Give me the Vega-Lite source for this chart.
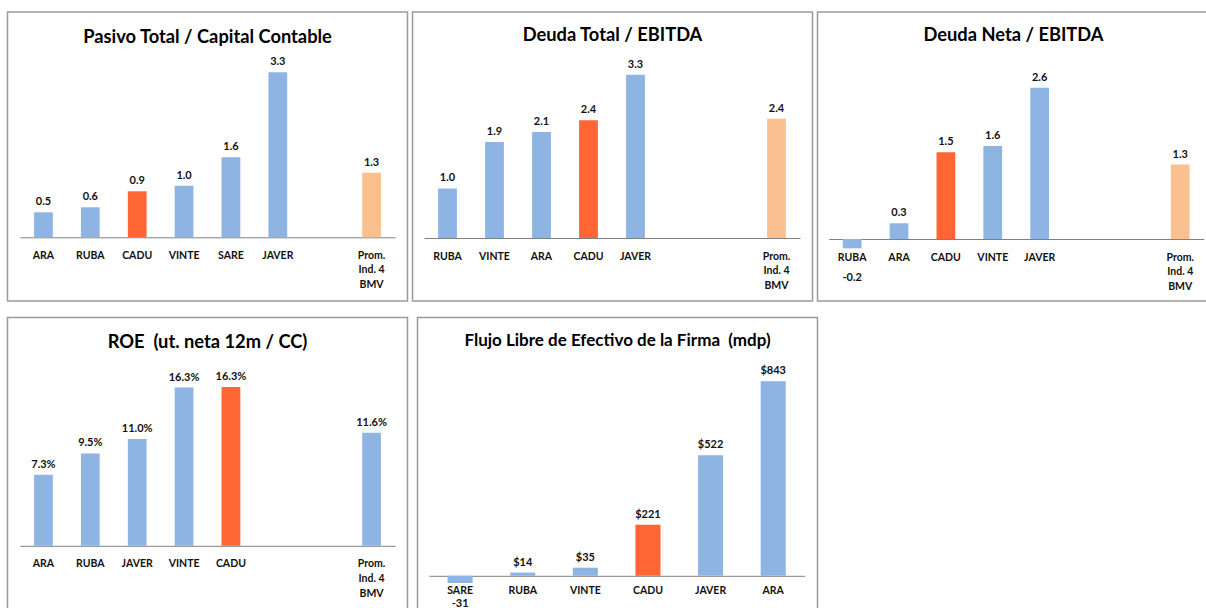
{
  "$schema": "https://vega.github.io/schema/vega-lite/v6.json",
  "padding": {"left": 6.5, "top": 11, "right": 0, "bottom": 0},
  "background": "white",
  "config": {
    "font": "Lato",
    "locale": {"number": {"decimal": ".", "thousands": ",", "grouping": [3], "currency": ["$", ""], "minus": "-"}},
    "view": {"stroke": "#9a9a9a", "strokeWidth": 1.5},
    "axis": {"ticks": false, "grid": false, "title": null, "labelAngle": 0, "labelFont": "Lato", "labelFontWeight": "bold", "labelFontSize": 10.5, "labelColor": "#111", "domainColor": "#808080", "domainWidth": 1, "labelPadding": 13, "labelLineHeight": 14.7, "labelOverlap": false},
    "title": {"font": "Lato", "fontWeight": "bold", "fontSize": 18.3, "color": "#000", "anchor": "middle", "baseline": "middle"},
    "text": {"font": "Lato", "fontWeight": "bold", "fontSize": 11, "color": "#111"}
  },
  "spacing": 14.5,
  "vconcat": [
    {
      "spacing": 3,
      "hconcat": [
        {
          "width": 400, "height": 289,
          "title": {"text": "Pasivo Total / Capital Contable", "offset": -35},
          "data": {"values": [
            {"emisora": "ARA", "valor": 0.5},
            {"emisora": "RUBA", "valor": 0.6},
            {"emisora": "CADU", "valor": 0.92},
            {"emisora": "VINTE", "valor": 1.03},
            {"emisora": "SARE", "valor": 1.6},
            {"emisora": "JAVER", "valor": 3.3},
            {"emisora": "Prom. Ind. 4 BMV", "valor": 1.29}
          ]},
          "encoding": {
            "x": {"field": "emisora", "type": "nominal", "sort": null,
              "scale": {"domain": ["ARA", "RUBA", "CADU", "VINTE", "SARE", "JAVER", " ", "Prom. Ind. 4 BMV"], "range": [12.5, 387.5], "paddingInner": 0.6, "paddingOuter": 0.3},
              "axis": {"offset": -63.7, "labelExpr": "datum.value == 'Prom. Ind. 4 BMV' ? ['Prom.', 'Ind. 4', 'BMV'] : datum.label"}},
            "y": {"field": "valor", "type": "quantitative", "scale": {"domain": [-1.274, 4.506], "nice": false, "zero": false}, "axis": null}
          },
          "layer": [
            {"mark": {"type": "bar"}, "encoding": {"color": {"condition": [{"test": "datum.emisora == 'CADU'", "value": "#FF6633"}, {"test": "datum.emisora == 'Prom. Ind. 4 BMV'", "value": "#FAC090"}], "value": "#8DB4E2"}}},
            {"mark": {"type": "text", "baseline": "bottom", "dy": -5}, "encoding": {"text": {"field": "valor", "format": ".1f"}}}
          ]
        },
        {
          "width": 400, "height": 289,
          "title": {"text": "Deuda Total / EBITDA", "offset": -33},
          "data": {"values": [
            {"emisora": "RUBA", "valor": 1.0},
            {"emisora": "VINTE", "valor": 1.94},
            {"emisora": "ARA", "valor": 2.14},
            {"emisora": "CADU", "valor": 2.38},
            {"emisora": "JAVER", "valor": 3.3},
            {"emisora": "Prom. Ind. 4 BMV", "valor": 2.41}
          ]},
          "encoding": {
            "x": {"field": "emisora", "type": "nominal", "sort": null,
              "scale": {"domain": ["RUBA", "VINTE", "ARA", "CADU", "JAVER", " ", "  ", "Prom. Ind. 4 BMV"], "range": [11.5, 387.5], "paddingInner": 0.6, "paddingOuter": 0.3},
              "axis": {"offset": -63, "labelExpr": "datum.value == 'Prom. Ind. 4 BMV' ? ['Prom.', 'Ind. 4', 'BMV'] : datum.label"}},
            "y": {"field": "valor", "type": "quantitative", "scale": {"domain": [-1.273, 4.566], "nice": false, "zero": false}, "axis": null}
          },
          "layer": [
            {"mark": {"type": "bar"}, "encoding": {"color": {"condition": [{"test": "datum.emisora == 'CADU'", "value": "#FF6633"}, {"test": "datum.emisora == 'Prom. Ind. 4 BMV'", "value": "#FAC090"}], "value": "#8DB4E2"}}},
            {"mark": {"type": "text", "baseline": "bottom", "dy": -5}, "encoding": {"text": {"field": "valor", "format": ".1f"}}}
          ]
        },
        {
          "width": 392, "height": 289,
          "title": {"text": "Deuda Neta / EBITDA", "offset": -33},
          "data": {"values": [
            {"emisora": "RUBA", "valor": -0.16},
            {"emisora": "ARA", "valor": 0.27},
            {"emisora": "CADU", "valor": 1.49},
            {"emisora": "VINTE", "valor": 1.6},
            {"emisora": "JAVER", "valor": 2.6},
            {"emisora": "Prom. Ind. 4 BMV", "valor": 1.28}
          ]},
          "encoding": {
            "x": {"field": "emisora", "type": "nominal", "sort": null,
              "scale": {"domain": ["RUBA", "ARA", "CADU", "VINTE", "JAVER", " ", "  ", "Prom. Ind. 4 BMV"], "range": [11.2, 386.2], "paddingInner": 0.6, "paddingOuter": 0.3},
              "axis": {"offset": -62, "labelExpr": "datum.value == 'Prom. Ind. 4 BMV' ? ['Prom.', 'Ind. 4', 'BMV'] : datum.label"}},
            "y": {"field": "valor", "type": "quantitative", "scale": {"domain": [-1.065, 3.9], "nice": false, "zero": false}, "axis": null}
          },
          "layer": [
            {"mark": {"type": "bar"}, "encoding": {"color": {"condition": [{"test": "datum.emisora == 'CADU'", "value": "#FF6633"}, {"test": "datum.emisora == 'Prom. Ind. 4 BMV'", "value": "#FAC090"}], "value": "#8DB4E2"}}},
            {"mark": {"type": "text", "baseline": "bottom", "dy": -5}, "transform": [{"filter": "datum.valor >= 0"}], "encoding": {"text": {"field": "valor", "format": ".1f"}}},
            {"mark": {"type": "text", "baseline": "middle", "dy": 39}, "transform": [{"filter": "datum.valor < 0"}], "encoding": {"y": {"datum": 0}, "text": {"field": "valor", "format": ".1f"}}}
          ]
        }
      ]
    },
    {
      "spacing": 8,
      "hconcat": [
        {
          "width": 400, "height": 292,
          "title": {"text": "ROE\u00a0 (ut. neta 12m / CC)", "offset": -35},
          "data": {"values": [
            {"emisora": "ARA", "valor": 0.073},
            {"emisora": "RUBA", "valor": 0.095},
            {"emisora": "JAVER", "valor": 0.110},
            {"emisora": "VINTE", "valor": 0.1628},
            {"emisora": "CADU", "valor": 0.1634},
            {"emisora": "Prom. Ind. 4 BMV", "valor": 0.1164}
          ]},
          "encoding": {
            "x": {"field": "emisora", "type": "nominal", "sort": null,
              "scale": {"domain": ["ARA", "RUBA", "JAVER", "VINTE", "CADU", " ", "  ", "Prom. Ind. 4 BMV"], "range": [12.5, 387.5], "paddingInner": 0.6, "paddingOuter": 0.3},
              "axis": {"offset": -63.7, "labelExpr": "datum.value == 'Prom. Ind. 4 BMV' ? ['Prom.', 'Ind. 4', 'BMV'] : datum.label"}},
            "y": {"field": "valor", "type": "quantitative", "scale": {"domain": [-0.0655, 0.2349], "nice": false, "zero": false}, "axis": null}
          },
          "layer": [
            {"mark": {"type": "bar"}, "encoding": {"color": {"condition": [{"test": "datum.emisora == 'CADU'", "value": "#FF6633"}], "value": "#8DB4E2"}}},
            {"mark": {"type": "text", "baseline": "bottom", "dy": -5}, "encoding": {"text": {"field": "valor", "format": ".1%"}}}
          ]
        },
        {
          "width": 400, "height": 292,
          "title": {"text": "Flujo Libre de Efectivo de la Firma\u00a0 (mdp)", "offset": -32, "fontSize": 17},
          "data": {"values": [
            {"emisora": "SARE", "valor": -31},
            {"emisora": "RUBA", "valor": 14},
            {"emisora": "VINTE", "valor": 35},
            {"emisora": "CADU", "valor": 221},
            {"emisora": "JAVER", "valor": 522},
            {"emisora": "ARA", "valor": 843}
          ]},
          "encoding": {
            "x": {"field": "emisora", "type": "nominal", "sort": null,
              "scale": {"domain": ["SARE", "RUBA", "VINTE", "CADU", "JAVER", "ARA"], "range": [11.3, 387], "paddingInner": 0.6, "paddingOuter": 0.3},
              "axis": {"offset": -33.7, "labelPadding": 10}},
            "y": {"field": "valor", "type": "quantitative", "scale": {"domain": [-146, 1118.6], "nice": false, "zero": false}, "axis": null}
          },
          "layer": [
            {"mark": {"type": "bar"}, "encoding": {"color": {"condition": [{"test": "datum.emisora == 'CADU'", "value": "#FF6633"}], "value": "#8DB4E2"}}},
            {"mark": {"type": "text", "baseline": "bottom", "dy": -5}, "transform": [{"filter": "datum.valor >= 0"}], "encoding": {"text": {"field": "valor", "format": "$.0f"}}},
            {"mark": {"type": "text", "baseline": "middle", "dy": 28.5}, "transform": [{"filter": "datum.valor < 0"}], "encoding": {"y": {"datum": 0}, "text": {"field": "valor", "format": ".0f"}}}
          ]
        }
      ]
    }
  ]
}
